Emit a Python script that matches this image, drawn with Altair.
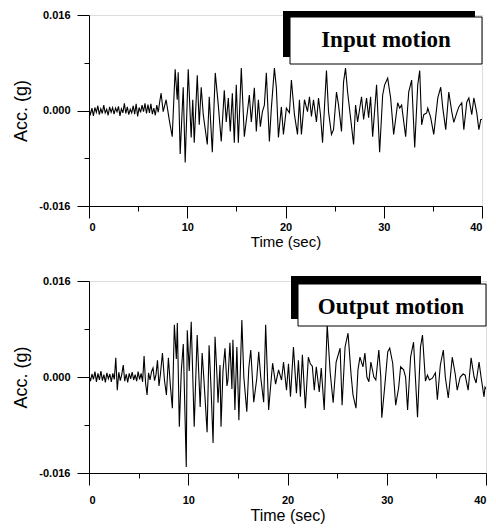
import altair as alt
import pandas as pd

# ---------------- data (acceleration in milli-g, time in seconds) ----------------
NOISE_T = [0.0, 0.15, 0.3, 0.45, 0.6, 0.75, 0.9, 1.05, 1.2, 1.35, 1.5, 1.65, 1.8, 1.95,
           2.1, 2.25, 2.4, 2.55, 2.7, 2.85, 3.0, 3.15, 3.3, 3.45, 3.6, 3.75, 3.9, 4.05,
           4.2, 4.35, 4.5, 4.65, 4.8, 4.95, 5.1, 5.25, 5.4, 5.55, 5.7, 5.85, 6.0, 6.15,
           6.3, 6.45, 6.6, 6.75, 6.9, 7.05, 7.2]

IN_NOISE = [0.2, -0.6, 0.4, -0.9, 0.5, -0.3, 0.8, -0.7, 0.3, -0.5,
            0.9, -0.4, 0.2, -0.8, 0.6, -0.3, 0.5, -0.6, 0.4, -0.2,
            0.7, -0.9, 0.3, -0.4, 1.2, -0.5, 0.6, -0.7, 0.2, -0.4,
            0.8, -0.6, 1.1, -1.0, 0.5, -0.3, 0.9, -0.2, 1.2, -0.5,
            1.0, -0.4, 1.1, -0.6, 0.4, -0.8, 0.9, -0.3, 1.5]

IN_T = [7.34, 7.55, 7.85, 8.16, 8.47, 8.77, 8.98, 9.08, 9.28, 9.59, 9.79, 10.10, 10.40,
        10.56, 10.71, 11.02, 11.22, 11.42, 11.63, 12.04, 12.24, 12.55, 12.85, 13.16, 13.46,
        13.77, 13.97, 14.18, 14.38, 14.59, 14.79, 14.99, 15.20, 15.50, 15.81, 16.12, 16.32,
        16.52, 16.83, 17.03, 17.24, 17.44, 17.65, 17.85, 18.05, 18.36, 18.56, 18.87, 19.07,
        19.28, 19.58, 19.79, 20.09, 20.40, 20.60, 20.91, 21.22, 21.42, 21.62, 21.93, 22.24,
        22.44, 22.64, 22.85, 23.15, 23.36, 23.56, 23.77, 24.17, 24.38, 24.68, 24.89, 25.19,
        25.40, 25.70, 25.91, 26.11, 26.32, 26.62, 26.93, 27.13, 27.34, 27.74, 27.95, 28.25,
        28.46, 28.66, 28.87, 29.27, 29.58, 29.89, 30.09, 30.40, 30.70, 31.01, 31.42, 31.62,
        31.82, 32.23, 32.54, 32.84, 33.15, 33.46, 33.66, 33.86, 34.07, 34.37, 34.48, 34.78,
        35.09, 35.50, 35.80, 36.01, 36.31, 36.62, 36.92, 37.13, 37.43, 37.64, 37.94, 38.15,
        38.45, 38.66, 38.96, 39.17, 39.47, 39.68, 39.88, 40.0]
IN_A = [2.9, -0.2, 1.8, -1.5, -4.4, 6.9, 1.8, 6.4, -7.3, 3.9, -8.7, 6.9, -4.5,
        1.8, -5.4, 5.9, -2.4, 3.9, -0.7, -5.7, 2.3, -7.0, 6.3, 0.9, -5.2,
        3.4, -1.9, 2.1, -3.5, 2.9, -5.4, 4.3, -5.4, 7.1, -4.4, -0.2, 2.6,
        -1.9, 3.8, -3.5, 1.8, -2.7, -0.2, 0.9, 6.3, -5.2, 0.4, 7.1, 3.8,
        -4.5, 0.6, -4.0, 0.4, -0.4, 5.1, -0.7, -4.0, 1.8, -4.0, 1.8, -0.2,
        2.3, -1.0, 1.8, -1.9, 2.1, -0.7, -5.4, 6.7, -0.2, -4.0, -3.2, 3.1,
        0.9, -3.5, 4.8, 7.1, 3.1, -1.2, -5.7, 0.9, -1.9, 2.3, -1.5, 2.1,
        -1.2, 2.3, -4.4, 4.3, -7.0, 2.6, 4.3, 5.4, 2.1, -4.0, 1.3, 0.4,
        0.9, -4.4, 3.1, 5.1, -6.2, 4.3, 6.7, -2.4, -0.7, -0.4, 0.4, -1.2,
        -4.0, 2.1, 3.9, 0.4, -3.2, 3.1, -0.2, -2.0, -0.4, 0.6, 1.3, -3.2,
        1.4, 2.1, -0.7, 2.1, -0.4, -3.2, -1.5, -1.5]

OUT_NOISE = [0.3, -0.7, 0.5, -0.4, 0.9, -0.8, 0.6, -0.5, 1.0, -0.6,
             0.4, -0.9, 0.7, -0.3, 0.5, -0.8, 0.6, -0.4, 3.2, -2.2,
             0.8, -0.6, 0.4, 2.0, -0.7, 0.5, -0.9, 0.6, -0.3, 0.8,
             -0.5, 0.4, -0.7, 0.9, -0.4, 0.6, -0.8, 3.5, -1.0, -3.0,
             0.7, -0.5, 0.9, 1.5, -0.6, 0.4, 2.8, -1.5, 0.5]

OUT_T = [7.4, 7.6, 7.8, 8.0, 8.2, 8.4, 8.6, 8.8, 8.9, 9.1, 9.3, 9.5, 9.8, 9.9, 10.1,
         10.3, 10.6, 10.8, 10.9, 11.2, 11.4, 11.6, 11.9, 12.1, 12.3, 12.5, 12.7, 12.9,
         13.0, 13.2, 13.3, 13.5, 13.7, 13.9, 14.0, 14.2, 14.4, 14.5, 14.7, 14.9, 15.1,
         15.4, 15.6, 15.9, 16.1, 16.3, 16.6, 16.9, 17.1, 17.3, 17.6, 17.8, 18.1, 18.3,
         18.5, 18.8, 19.1, 19.4, 19.6, 19.9, 20.1, 20.3, 20.6, 20.9, 21.1, 21.3, 21.5,
         21.8, 22.1, 22.3, 22.5, 22.7, 22.9, 23.2, 23.4, 23.7, 24.0, 24.3, 24.6, 24.9,
         25.3, 25.5, 25.8, 26.1, 26.4, 26.6, 26.9, 27.1, 27.3, 27.6, 27.8, 28.0, 28.2,
         28.4, 28.7, 28.9, 29.2, 29.4, 29.5, 29.8, 30.1, 30.3, 30.6, 30.9, 31.2, 31.4,
         31.7, 31.9, 32.1, 32.4, 32.7, 33.1, 33.4, 33.6, 33.9, 34.1, 34.3, 34.6, 34.9,
         35.1, 35.4, 35.7, 35.9, 36.2, 36.6, 36.9, 37.1, 37.4, 37.7, 37.9, 38.2, 38.5,
         38.8, 39.0, 39.3, 39.5, 39.8, 39.9, 40.0]
OUT_A = [4.0, -0.5, -3.0, 3.2, -1.5, -5.2, 8.7, 3.0, 9.0, -8.3, 1.0, 5.5, -15.0, 7.8, 1.0,
         9.2, -8.3, 2.0, 7.0, -5.0, 4.0, -1.0, -9.2, 5.3, -2.0, -11.0, 6.7, 0.0,
         -4.3, 2.0, -8.3, 1.0, 4.8, -1.5, -0.5, 5.7, -2.0, 6.2, -5.5, 5.0, -7.2,
         9.5, 0.0, -5.8, 1.5, 4.5, -4.2, -0.3, 4.2, 0.0, -4.2, 8.7, -5.5, -1.5,
         2.3, -1.2, 1.2, -0.5, 2.5, -2.2, 2.2, -3.3, 5.0, -2.7, 2.8, -3.3, 3.7,
         -5.2, 3.3, 2.2, 1.8, -2.2, 1.7, -2.5, 1.5, -5.5, 8.7, 0.8, -4.3, 2.5,
         4.8, -4.7, 5.0, 7.3, 0.5, -3.0, -5.2, 1.2, 3.3, 1.7, 4.0, 0.0, -0.8,
         2.5, 0.0, -0.5, 4.5, 0.0, -6.8, -1.5, 4.2, 4.8, 2.3, -4.7, -1.8, 1.7,
         1.2, 0.0, -5.5, 3.3, 5.8, -6.7, 5.0, 7.0, -0.7, 0.3, -0.5, -0.2, 0.7,
         -3.8, 2.0, 4.5, 0.0, -3.5, 3.3, 0.5, -2.2, 0.0, 0.5, 0.3, -2.2, 3.2,
         0.0, -1.0, 2.5, 0.0, -3.3, -1.7, -2.0]

X_MAJOR = [0, 10, 20, 30, 40]
X_MINOR = [5, 15, 25, 35]
Y_MAJOR = [-0.016, 0.0, 0.016]
Y_MINOR = [-0.008, 0.008]

SANS = "Liberation Sans"
SERIF = "Liberation Serif"


def panel(times, accs, label, w, h, shadow_box, white_box, text_pos, x_lab_pad, x_title_size):
    df = pd.DataFrame({"t": times, "a": [v / 1000.0 for v in accs]})
    xs = alt.Scale(domain=[0, 40], nice=False, zero=False)
    ys = alt.Scale(domain=[-0.016, 0.016], nice=False, zero=False)
    common = dict(grid=False, domainColor="black", tickColor="black",
                  labelColor="black", titleColor="black", labelFont=SANS,
                  titleFont=SANS, labelFontSize=11, labelFontWeight="bold",
                  titleFontWeight="normal", domainWidth=1, tickWidth=1)
    line = alt.Chart(df).mark_line(color="black", strokeWidth=1.1, clip=True).encode(
        x=alt.X("t:Q", scale=xs, axis=alt.Axis(values=X_MAJOR, title="Time (sec)",
                                               orient="bottom", tickSize=12,
                                               labelPadding=x_lab_pad, titlePadding=2,
                                               titleFontSize=x_title_size, **common)),
        y=alt.Y("a:Q", scale=ys, axis=alt.Axis(values=Y_MAJOR, format=".3f",
                                               labelExpr="replace(datum.label, '\u2212', '-')",
                                               title="Acc. (g)", orient="left",
                                               tickSize=12, labelPadding=7,
                                               titlePadding=8, titleFontSize=18, **common)),
    )
    minor = alt.Chart(df).mark_line(opacity=0).encode(
        x=alt.X("t:Q", scale=xs, axis=alt.Axis(values=X_MINOR, labels=False, domain=False,
                                               title=None, orient="bottom", tickSize=5,
                                               grid=False, tickColor="black")),
        y=alt.Y("a:Q", scale=ys, axis=alt.Axis(values=Y_MINOR, labels=False, domain=False,
                                               title=None, orient="left", tickSize=5,
                                               grid=False, tickColor="black")),
    )
    one = pd.DataFrame({"k": [1]})
    shadow = alt.Chart(one).mark_rect(color="black").encode(
        x=alt.value(shadow_box[0]), x2=alt.value(shadow_box[1]),
        y=alt.value(shadow_box[2]), y2=alt.value(shadow_box[3]))
    white = alt.Chart(one).mark_rect(fill="white", stroke="black", strokeWidth=1).encode(
        x=alt.value(white_box[0]), x2=alt.value(white_box[1]),
        y=alt.value(white_box[2]), y2=alt.value(white_box[3]))
    txt = alt.Chart(one).mark_text(text=label, font=SERIF, fontSize=23, fontWeight="bold",
                                   align="center", baseline="alphabetic",
                                   color="black").encode(
        x=alt.value(text_pos[0]), y=alt.value(text_pos[1]))
    return alt.layer(line, minor, shadow, white, txt).resolve_axis(
        x="independent", y="independent").properties(width=w, height=h)


top = panel(NOISE_T + IN_T, IN_NOISE + IN_A, "Input motion", 393, 191,
            (194, 386, -4, 42), (201, 393, 2, 49), (297, 32), 3, 15)
bottom = panel(NOISE_T + OUT_T, OUT_NOISE + OUT_A, "Output motion", 397, 192,
               (202, 392, -5, 38), (209, 397, 3, 45), (302, 33), 9, 16)

chart = alt.vconcat(top, bottom, spacing=24).properties(
    padding={"left": 4, "top": 0, "right": 0, "bottom": 0}
).configure_view(stroke="black", strokeWidth=1).configure(background="white")

chart.save("out.html", embed_options={"renderer": "svg", "actions": False})
